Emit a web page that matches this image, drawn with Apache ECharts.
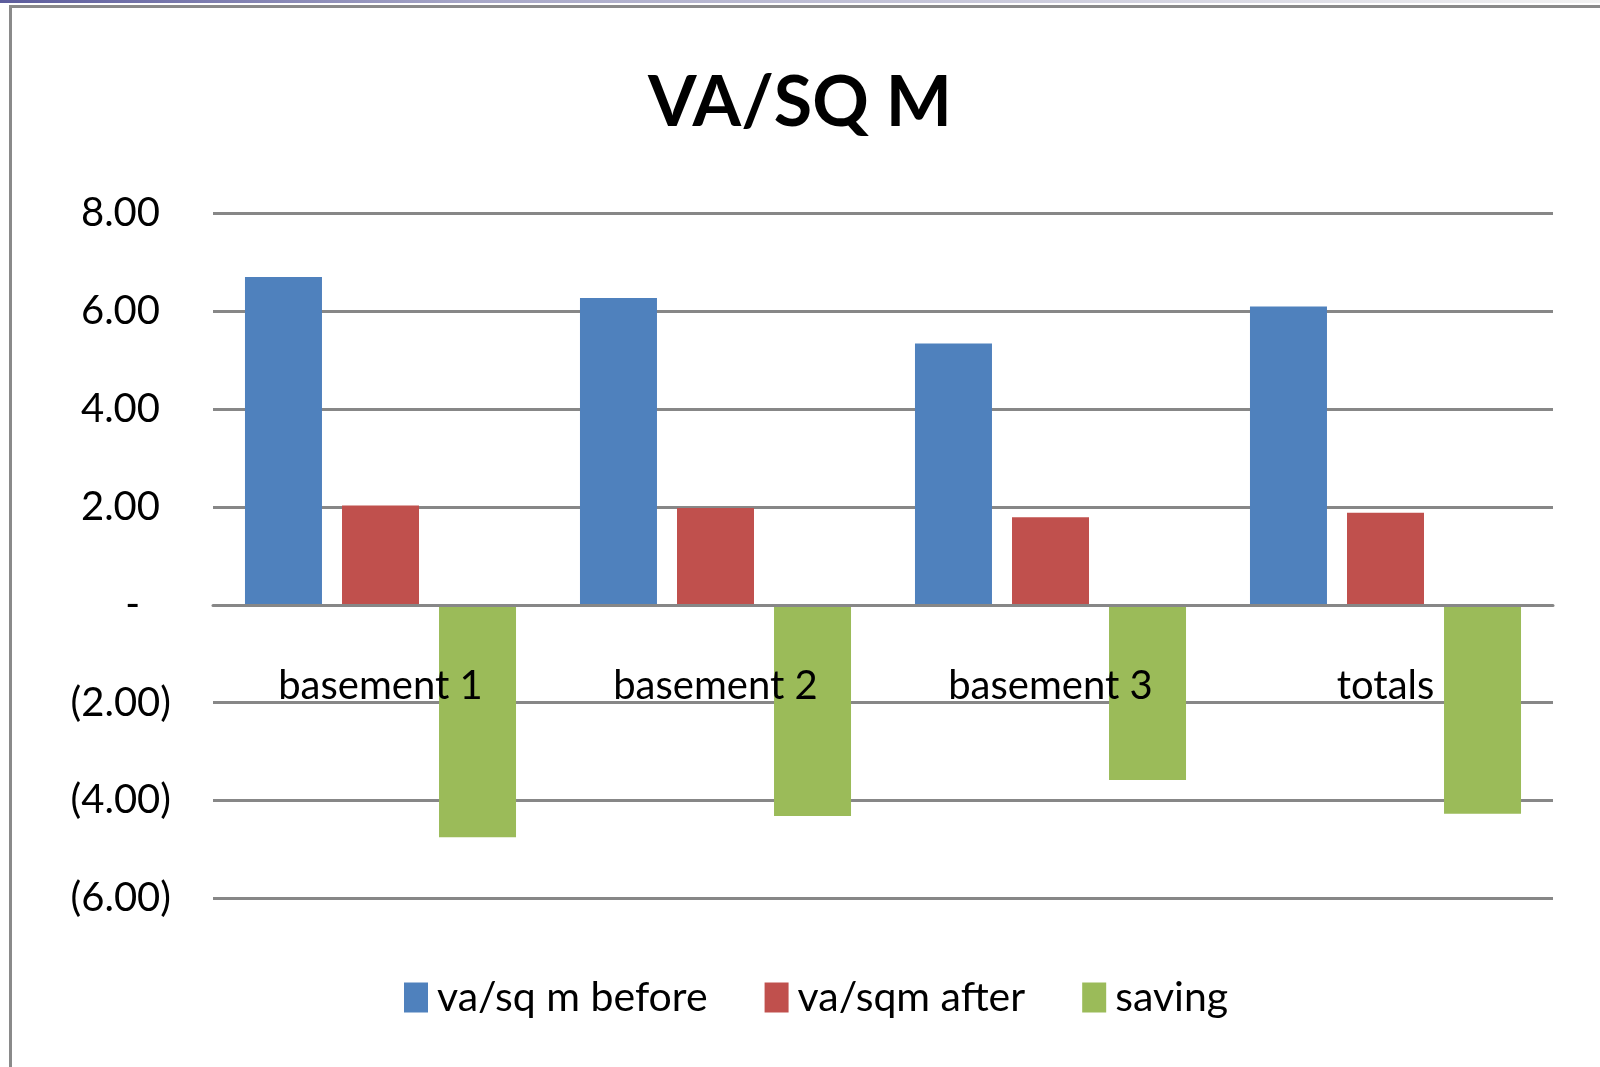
<!DOCTYPE html>
<html>
<head>
<meta charset="utf-8">
<script src="https://cdn.jsdelivr.net/npm/echarts@6/dist/echarts.min.js"></script>
<style>
html,body{margin:0;padding:0;background:#fff;}
#c{width:1600px;height:1067px;}
</style>
</head>
<body>
<div id="c"></div>
<script>
var categories = ['basement 1', 'basement 2', 'basement 3', 'totals'];
var before = [6.70, 6.27, 5.34, 6.10];
var after = [2.03, 1.98, 1.79, 1.88];
var saving = [-4.75, -4.32, -3.58, -4.27];
var seriesNames = ['va/sq m before', 'va/sqm after', 'saving'];
var yMin = -6, yMax = 8, yStep = 2;

var FONT = 'Lato';
var chart = echarts.init(document.getElementById('c'));
function fmt(v) {
  if (v === 0) return '{z|-}';
  if (v < 0) return '{n|(' + Math.abs(v).toFixed(2) + ')}';
  return '{p|' + v.toFixed(2) + '}';
}
var option = {
  backgroundColor: '#fff',
  animation: false,
  title: {
    text: 'VA/SQ M',
    left: 'center',
    top: 63,
    textStyle: { fontFamily: FONT, fontSize: 70, fontWeight: 'bold', color: '#000' }
  },
  legend: {
    left: 399,
    top: 972,
    itemWidth: 24,
    itemHeight: 30,
    itemGap: 57,
    icon: 'rect',
    textStyle: { fontFamily: FONT, fontSize: 41, color: '#000', padding: [0, 0, 0, 4] },
    data: seriesNames
  },
  grid: { left: 213, right: 47, top: 213.5, bottom: 168.7 },
  xAxis: {
    type: 'category',
    data: categories,
    z: 10,
    axisLine: { onZero: true, lineStyle: { color: '#878787', width: 3 } },
    axisTick: { show: false },
    axisLabel: { fontFamily: FONT, fontSize: 40, color: '#000', margin: -232, interval: 0 }
  },
  yAxis: {
    type: 'value',
    min: yMin, max: yMax, interval: yStep,
    axisLine: { show: false },
    axisTick: { show: false },
    splitLine: { lineStyle: { color: '#878787', width: 3 } },
    axisLabel: {
      margin: 42,
      formatter: fmt,
      rich: {
        p: { fontFamily: FONT, fontSize: 40, color: '#000', padding: [0, 11, 0, 0] },
        n: { fontFamily: FONT, fontSize: 40, color: '#000' },
        z: { fontFamily: FONT, fontSize: 40, color: '#000', padding: [0, 31, 0, 0] }
      }
    }
  },
  series: [
    { name: seriesNames[0], type: 'bar', data: before, barWidth: 77, barGap: '26%', itemStyle: { color: '#4F81BD' } },
    { name: seriesNames[1], type: 'bar', data: after, barWidth: 77, barGap: '26%', itemStyle: { color: '#C0504D' } },
    { name: seriesNames[2], type: 'bar', data: saving, barWidth: 77, barGap: '26%', itemStyle: { color: '#9BBB59' } }
  ],
  graphic: [
    { type: 'rect', z: 100, silent: true, shape: { x: 0, y: 0, width: 1600, height: 3 },
      style: { fill: new echarts.graphic.LinearGradient(0, 0, 1, 0, [
        { offset: 0, color: '#5c5c9c' }, { offset: 0.3, color: '#a8a8c8' }, { offset: 1, color: '#f2f2f2' }]) } },
    { type: 'rect', z: 100, silent: true, shape: { x: 10.5, y: 6.5, width: 1700, height: 1200 },
      style: { fill: 'none', stroke: '#8a8a8a', lineWidth: 3 } }
  ]
};
chart.setOption(option);
</script>
</body>
</html>
